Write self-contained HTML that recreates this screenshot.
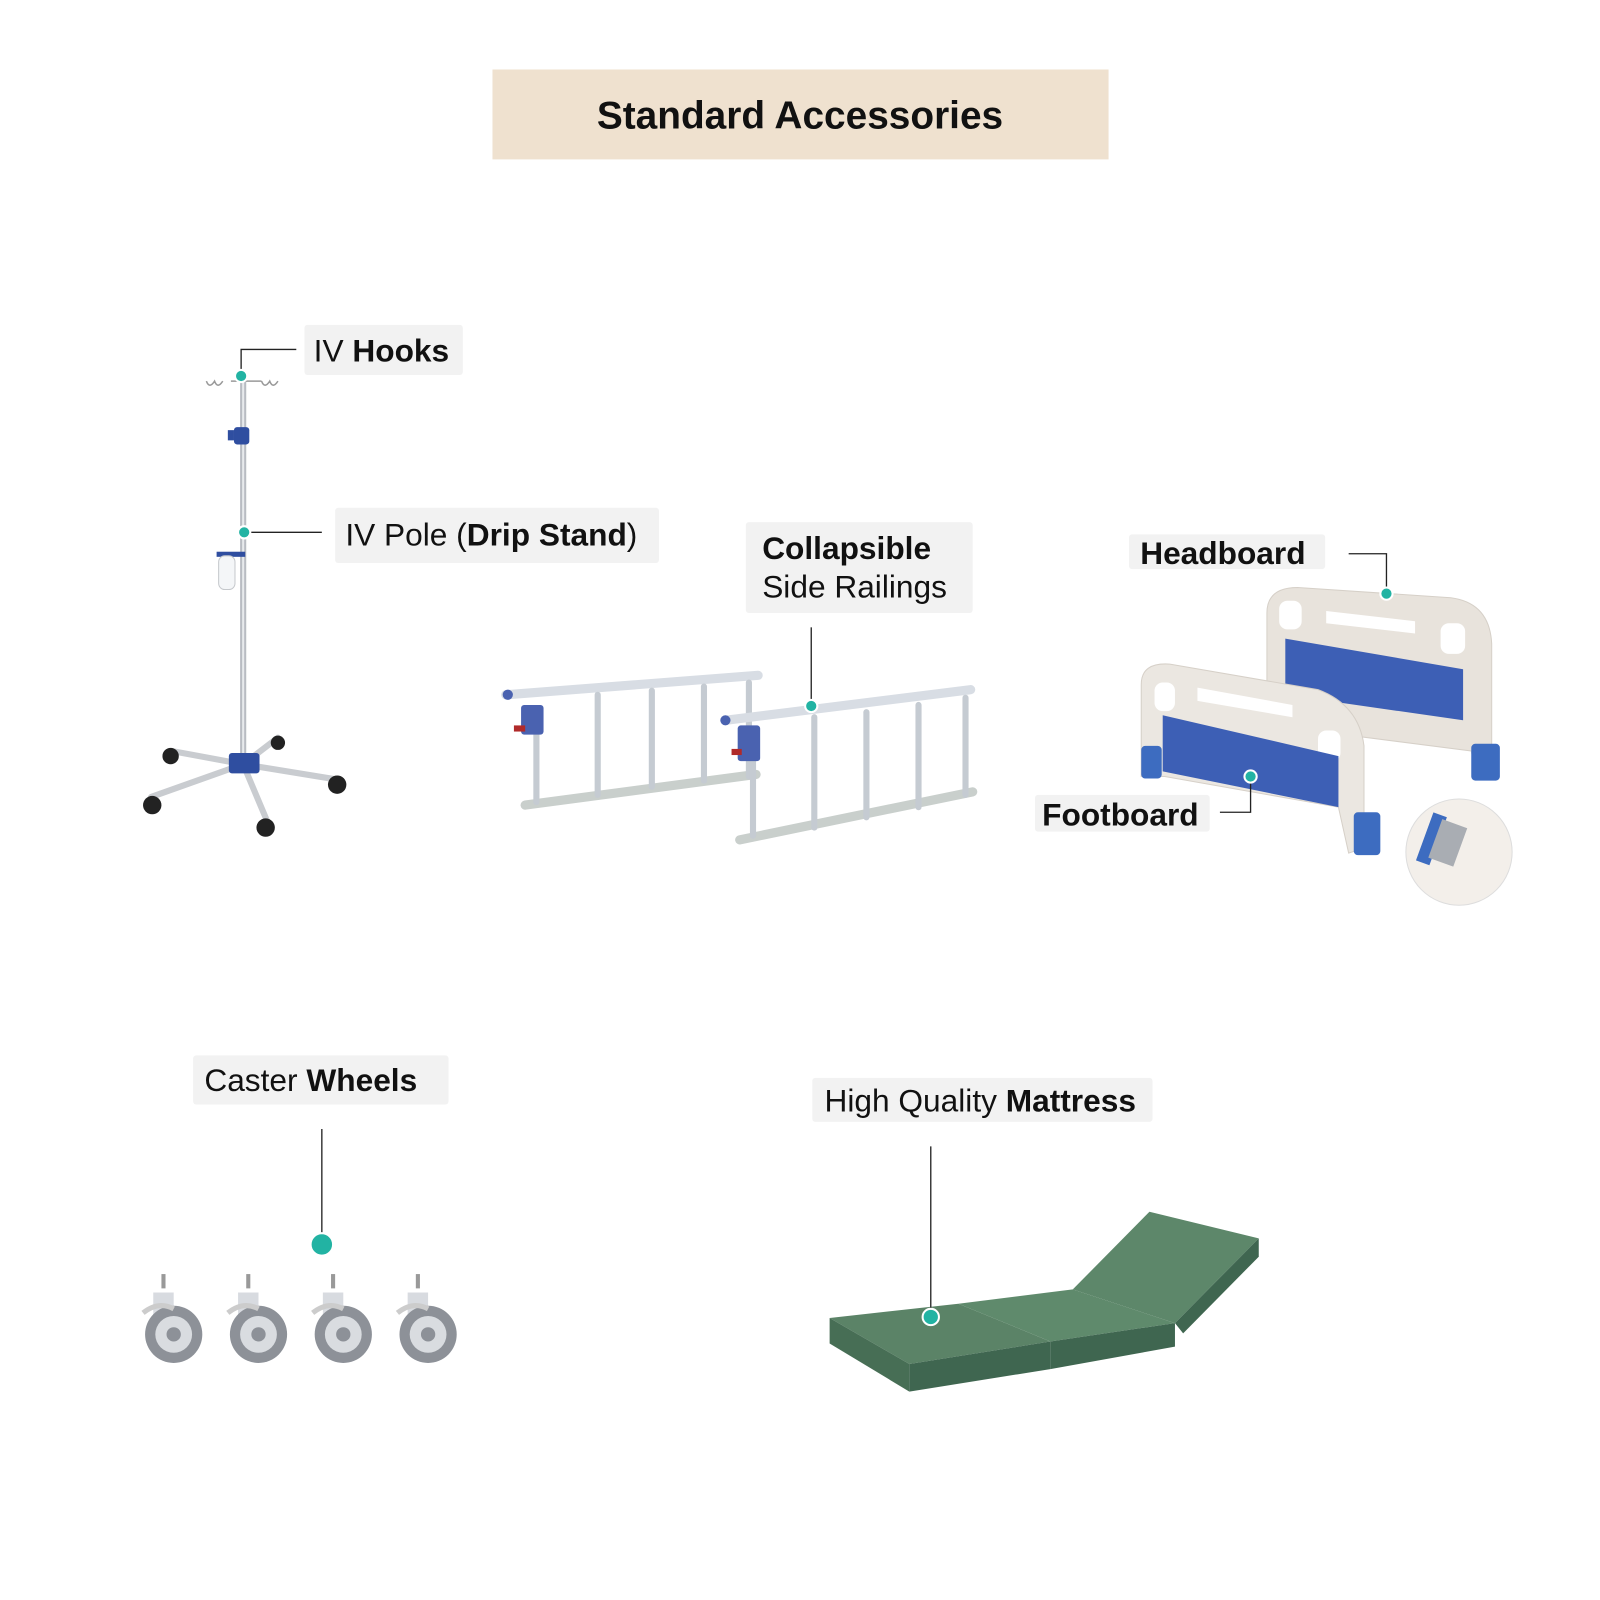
<!DOCTYPE html>
<html><head><meta charset="utf-8"><style>
html,body{margin:0;padding:0;background:#fff;width:1600px;height:1600px;overflow:hidden}
svg{display:block}
text{font-family:"Liberation Sans",sans-serif;fill:#111}
</style></head><body>
<svg width="1600" height="1600" viewBox="0 0 1566 1566" xmlns="http://www.w3.org/2000/svg">
<rect x="482" y="68" width="603" height="88" fill="#efe1cf"/>
<text x="783" y="126" font-size="38" font-weight="bold" text-anchor="middle">Standard Accessories</text>

<g fill="#f2f2f2">
<rect x="298" y="318" width="155" height="49" rx="3"/>
<rect x="328" y="497" width="317" height="54" rx="3"/>
<rect x="730" y="511" width="222" height="89" rx="3"/>
<rect x="1105" y="523" width="192" height="34" rx="3"/>
<rect x="1013" y="778" width="171" height="36" rx="3"/>
<rect x="189" y="1033" width="250" height="48" rx="3"/>
<rect x="795" y="1055" width="333" height="43" rx="3"/>
</g>
<g font-size="31">
<text x="307" y="354">IV <tspan font-weight="bold">Hooks</tspan></text>
<text x="338" y="534">IV Pole (<tspan font-weight="bold">Drip Stand</tspan>)</text>
<text x="746" y="547" font-weight="bold">Collapsible</text>
<text x="746" y="585">Side Railings</text>
<text x="1116" y="552" font-weight="bold">Headboard</text>
<text x="1020" y="808" font-weight="bold">Footboard</text>
<text x="200" y="1068">Caster <tspan font-weight="bold">Wheels</tspan></text>
<text x="807" y="1088">High Quality <tspan font-weight="bold">Mattress</tspan></text>
</g>

<g>
<rect x="235" y="370" width="6" height="370" fill="#b8bcc2"/>
<rect x="237" y="370" width="2" height="370" fill="#e8eaed"/>
<path d="M202 373 q3 8 8 0 q3 8 8 0 M226 373 h30 M256 373 q3 8 8 0 q3 8 8 0" stroke="#999" fill="none" stroke-width="1.5"/>
<rect x="229" y="418" width="15" height="17" rx="3" fill="#2f4ea0"/>
<rect x="223" y="421" width="6" height="10" fill="#2f4ea0"/>
<rect x="212" y="540" width="28" height="5" fill="#2f4ea0"/>
<rect x="214" y="544" width="16" height="33" rx="6" fill="#f4f6f8" stroke="#c5c8cc"/>
<path d="M238 748 L168 735 M238 748 L148 780 M238 748 L262 805 M238 748 L330 763 M238 748 L272 722" stroke="#c9ccd0" stroke-width="6" stroke-linecap="round"/>
<rect x="224" y="737" width="30" height="20" rx="3" fill="#2f4ea0"/>
<g fill="#222"><circle cx="167" cy="740" r="8"/><circle cx="149" cy="788" r="9"/><circle cx="260" cy="810" r="9"/><circle cx="330" cy="768" r="9"/><circle cx="272" cy="727" r="7"/></g>
</g>

<g stroke-linecap="round">
<line x1="495" y1="680" x2="742" y2="661" stroke="#d8dde4" stroke-width="9"/>
<line x1="514" y1="788" x2="740" y2="758" stroke="#c9cfcc" stroke-width="9"/>
<g stroke="#c5cbd2" stroke-width="6"><line x1="525" y1="700" x2="525" y2="785"/><line x1="585" y1="680" x2="585" y2="778"/><line x1="638" y1="676" x2="638" y2="770"/><line x1="689" y1="672" x2="689" y2="764"/><line x1="733" y1="668" x2="733" y2="760"/></g>
<rect x="510" y="690" width="22" height="29" rx="3" fill="#4a62b0" stroke="none"/>
<circle cx="497" cy="680" r="5" fill="#4a62b0"/>
<rect x="503" y="710" width="11" height="6" fill="#b02a2a" stroke="none"/>
<line x1="710" y1="705" x2="950" y2="675" stroke="#d8dde4" stroke-width="9"/>
<line x1="724" y1="822" x2="952" y2="775" stroke="#c9cfcc" stroke-width="9"/>
<g stroke="#c5cbd2" stroke-width="6"><line x1="737" y1="720" x2="737" y2="818"/><line x1="797" y1="702" x2="797" y2="810"/><line x1="848" y1="697" x2="848" y2="800"/><line x1="899" y1="690" x2="899" y2="790"/><line x1="945" y1="683" x2="945" y2="778"/></g>
<rect x="722" y="710" width="22" height="35" rx="3" fill="#4a62b0" stroke="none"/>
<circle cx="710" cy="705" r="5" fill="#4a62b0"/>
<rect x="716" y="733" width="10" height="6" fill="#b02a2a" stroke="none"/>
</g>

<g>
<path d="M1240 700 L1240 600 Q1240 575 1270 575 L1420 585 Q1458 590 1460 630 L1460 760 L1445 760 L1440 735 L1245 710 Z" fill="#e8e3dc" stroke="#d6d0c8"/>
<rect x="1252" y="588" width="22" height="28" rx="8" fill="#fff"/>
<path d="M1298 598 L1385 608 L1385 620 L1298 610 Z" fill="#fff"/>
<rect x="1410" y="610" width="24" height="30" rx="8" fill="#fff"/>
<path d="M1258 625 L1432 655 L1432 705 L1258 680 Z" fill="#3d5fb5"/>
<rect x="1440" y="728" width="28" height="36" rx="4" fill="#3d6cc0"/>
<path d="M1117 760 L1117 670 Q1117 648 1145 650 L1290 675 Q1330 690 1335 730 L1335 830 L1320 835 L1310 790 L1140 760 Z" fill="#ebe7e1" stroke="#d6d0c8"/>
<rect x="1130" y="668" width="20" height="28" rx="8" fill="#fff"/>
<path d="M1172 673 L1265 690 L1265 702 L1172 686 Z" fill="#fff"/>
<rect x="1290" y="715" width="22" height="30" rx="8" fill="#fff"/>
<path d="M1138 700 L1310 740 L1310 790 L1138 755 Z" fill="#3d5fb5"/>
<rect x="1117" y="730" width="20" height="32" rx="4" fill="#3d6cc0"/>
<rect x="1325" y="795" width="26" height="42" rx="4" fill="#3d6cc0"/>
<circle cx="1428" cy="834" r="52" fill="#f3efea" stroke="#ddd"/>
<rect x="1394" y="796" width="14" height="50" fill="#3d6cc0" transform="rotate(20 1401 821)"/>
<rect x="1404" y="805" width="26" height="40" fill="#a9adb3" transform="rotate(20 1417 825)"/>
</g>

<g>
<g id="w"><rect x="158" y="1247" width="4" height="14" fill="#999"/><path d="M150 1265 h20 v35 h-20z" fill="#d8dbe0"/><circle cx="170" cy="1306" r="28" fill="#8d9198"/><circle cx="170" cy="1306" r="18" fill="#d9dce0"/><circle cx="170" cy="1306" r="7" fill="#8d9198"/><path d="M140 1285 q15 -12 30 -4" stroke="#ccc" stroke-width="5" fill="none"/></g>
<use href="#w" x="83"/><use href="#w" x="166"/><use href="#w" x="249"/>
</g>

<g>
<path d="M812 1290 L938 1276 L1028 1313 L890 1335 Z" fill="#5b8367"/>
<path d="M812 1290 L890 1335 L890 1362 L812 1315 Z" fill="#476e55"/>
<path d="M890 1335 L1028 1313 L1028 1340 L890 1362 Z" fill="#3f6650"/>
<path d="M938 1276 L1050 1262 L1150 1295 L1028 1313 Z" fill="#5f8a6c"/>
<path d="M1028 1313 L1150 1295 L1150 1318 L1028 1340 Z" fill="#3f6650"/>
<path d="M1050 1262 L1125 1186 L1232 1212 L1150 1295 Z" fill="#5d876a"/>
<path d="M1150 1295 L1232 1212 L1232 1230 L1158 1305 Z" fill="#3f6650"/>
</g>

<g stroke="#222" stroke-width="1.3" fill="none">
<path d="M236 368 V342 H290"/>
<path d="M239 521 H315"/>
<path d="M794 691 V614"/>
<path d="M1357 580 V542 H1320"/>
<path d="M1224 760 V795 H1194"/>
<path d="M315 1218 V1105"/>
<path d="M911 1289 V1122"/>
</g>
<g fill="#22b3a3" stroke="#fff" stroke-width="2">
<circle cx="236" cy="368" r="6"/><circle cx="239" cy="521" r="6"/><circle cx="794" cy="691" r="6"/>
<circle cx="1357" cy="581" r="6"/><circle cx="1224" cy="760" r="6"/><circle cx="315" cy="1218" r="11"/><circle cx="911" cy="1289" r="8"/>
</g>
</svg>
</body></html>
